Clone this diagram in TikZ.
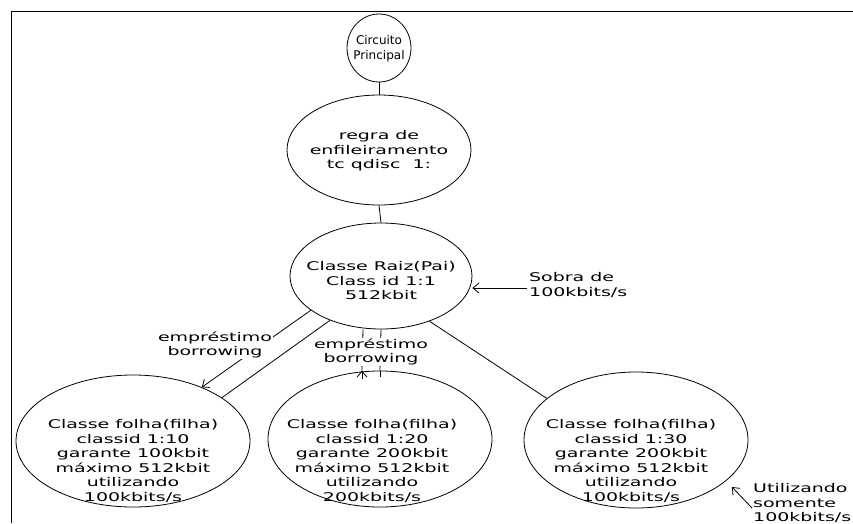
\documentclass[tikz,border=0pt]{standalone}
\usepackage{fontspec}
\setmainfont[FakeStretch=1.58]{DejaVu Sans}
\newfontfamily\plainfont{DejaVu Sans}
\usetikzlibrary{shapes.geometric,arrows.meta}
\begin{document}
\begin{tikzpicture}[x=1pt,y=-1pt,
  every node/.style={font=\fontsize{12}{14.5}\selectfont, inner sep=0pt, align=center},
  oval/.style={draw, ellipse, line width=0.8pt},
  link/.style={line width=0.8pt},
  arr/.style={line width=0.8pt, -{Straight Barb[length=6pt,width=10pt]}},
  lbl/.style={fill=white, inner sep=1pt}]
\useasboundingbox (0,0) rectangle (853,523);
\draw[line width=1pt] (11,523) -- (11,11) -- (853,11);

% ellipses
\node[oval, minimum width=64, minimum height=68] (circ) at (379,48) {};
\node[oval, minimum width=184, minimum height=110] (regra) at (379,150) {};
\node[oval, minimum width=182, minimum height=106] (raiz) at (381,276) {};
\node[oval, minimum width=234, minimum height=132] (leafA) at (133,441) {};
\node[oval, minimum width=224, minimum height=136] (leafB) at (380,439) {};
\node[oval, minimum width=224, minimum height=136] (leafC) at (636,440) {};

% texts
\node[font=\plainfont\fontsize{12}{15}\selectfont] (tcirc) at (379,49) {Circuito\\Principal};
\node (tregra) at (379,151) {regra de\\enfileiramento\\tc qdisc\ \ 1:};
\node (traiz) at (381,281) {Classe Raiz(Pai)\\Class id 1:1\\512kbit};
\node (tleafA) at (133,461) {Classe folha(filha)\\classid 1:10\\garante 100kbit\\máximo 512kbit\\utilizando\\100kbits/s};
\node (tleafB) at (372,461) {Classe folha(filha)\\classid 1:20\\garante 200kbit\\máximo 512kbit\\utilizando\\200kbits/s};
\node (tleafC) at (631,461) {Classe folha(filha)\\classid 1:30\\garante 200kbit\\máximo 512kbit\\utilizando\\100kbits/s};

% connectors
\draw[link] (circ.south) -- (regra.north);
\draw[link] (regra.south) -- (raiz.north);
\draw[link] (raiz.221) -- (leafA.26);
\draw[link] (raiz.south) -- (leafB.north);
\draw[link] (raiz.-43) -- (leafC.155);
\draw[arr] (raiz.206) -- (leafA.38);
\draw[link] ([xshift=-18pt]raiz.south) -- ([xshift=-18pt]leafB.north);

% labels
\node[lbl] (borrowA) at (215,345) {empréstimo\\borrowing};
\node[lbl] (borrowB) at (371,352) {empréstimo\\borrowing};
\draw[arr] ([xshift=-18pt,yshift=-8pt]leafB.north) -- ([xshift=-18pt]leafB.north);
\draw[link] ([yshift=-6pt]leafB.north) -- (leafB.north);
\node[anchor=west, align=left] (sobra) at (529,285) {Sobra de\\100kbits/s};
\draw[arr] ([xshift=-2pt,yshift=-3pt]sobra.west) -- ([yshift=-3pt]sobra.west -| raiz.east);
\node[anchor=west, align=left] (util) at (753,503) {Utilizando\\somente\\100kbits/s};
\coordinate (utilTip) at (732,487);
\draw[arr] ([xshift=-1pt,yshift=-5pt]util.west) -- (utilTip);
\end{tikzpicture}
\end{document}
